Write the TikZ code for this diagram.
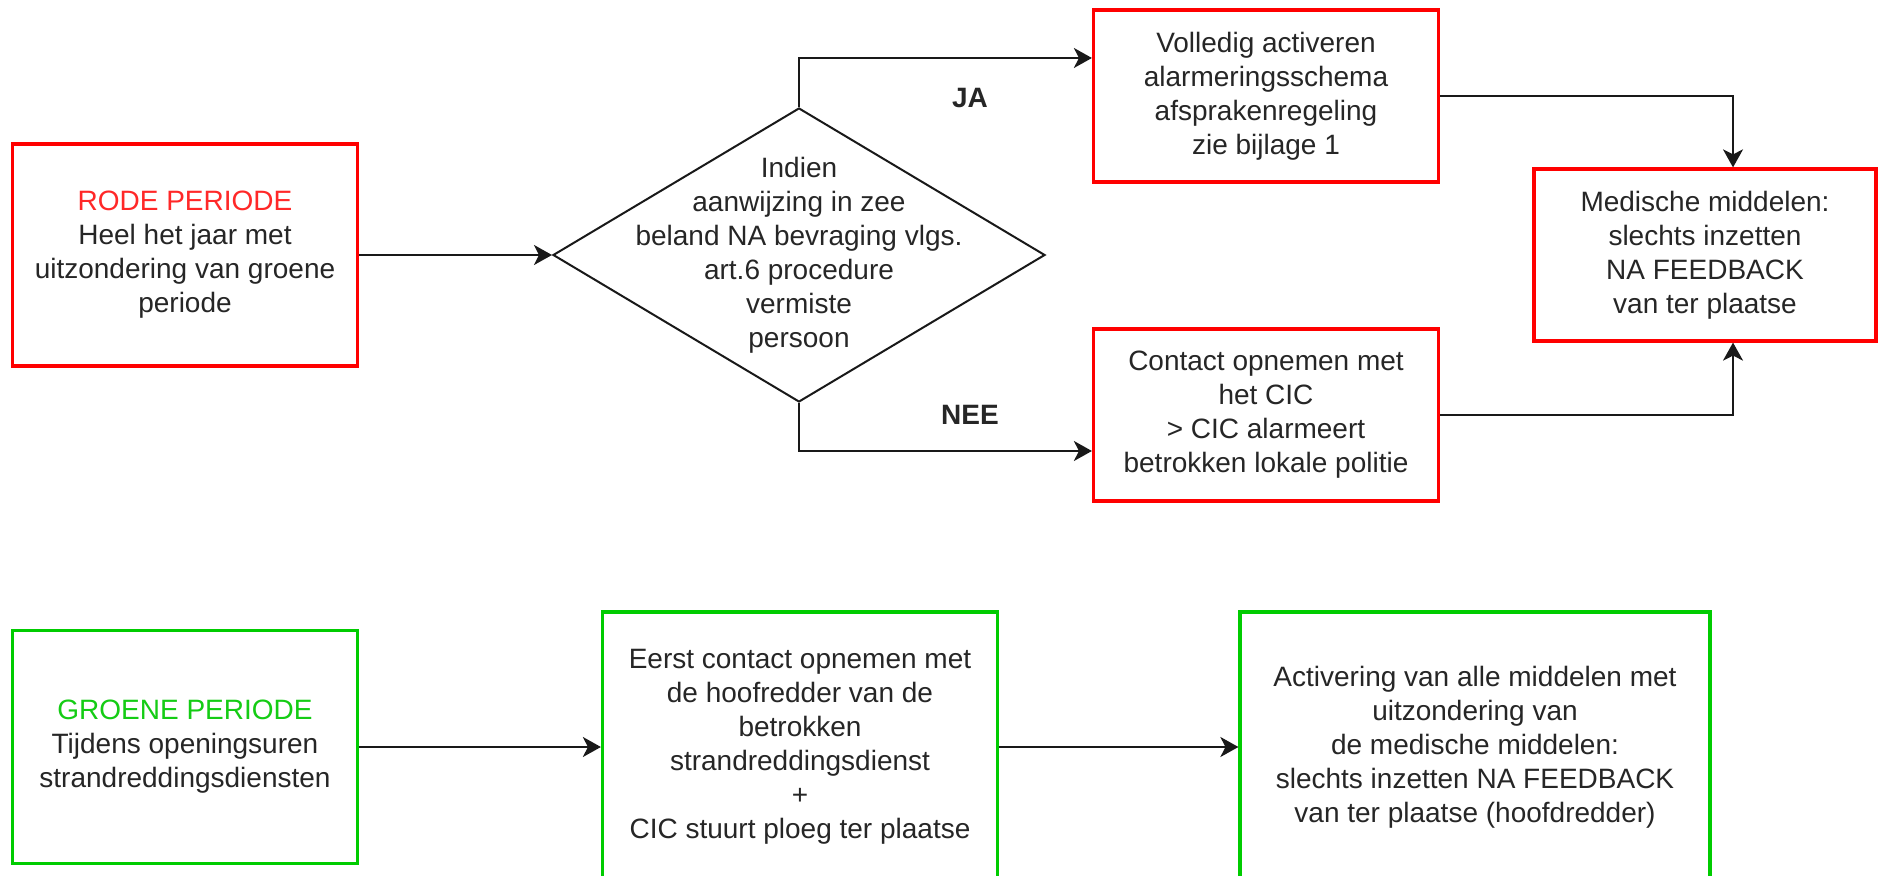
\documentclass[tikz,border=0pt]{standalone}
\usepackage{fontspec}
\setmainfont{Liberation Sans}
\usetikzlibrary{shapes.geometric,arrows.meta}
\definecolor{rodered}{RGB}{255,0,0}
\definecolor{rodetext}{RGB}{255,40,40}
\definecolor{groen}{RGB}{0,204,0}
\definecolor{groentext}{RGB}{20,204,20}
\definecolor{txt}{RGB}{38,38,38}
\tikzset{
  redbox/.style={draw=rodered, line width=1.6pt, fill=white, align=center, text=txt, inner sep=2pt},
  greenbox/.style={draw=groen, line width=1.6pt, fill=white, align=center, text=txt, inner sep=2pt},
  txtnode/.style={align=center, text=txt},
  arr/.style={line width=1pt, draw=black!90, -{Stealth[length=9pt,width=10pt,inset=2.5pt]}},
  lbl/.style={font=\fontsize{14pt}{17pt}\selectfont\bfseries, text=txt}
}
\begin{document}
\begin{tikzpicture}[x=0.5pt,y=-0.5pt, font=\fontsize{14pt}{17pt}\selectfont]
\useasboundingbox (0,0) rectangle (1878,876);
% red section
\node[redbox, minimum width=172.5pt, minimum height=111pt] (rode) at (185,255)
  {\textcolor{rodetext}{RODE PERIODE}\\Heel het jaar met\\uitzondering van groene\\periode};
\node[diamond, draw=black!90, line width=1pt, minimum width=246pt, minimum height=147pt, inner sep=0pt] (dia) at (799,255) {};
\node[txtnode] (diatext) at (dia.center) {Indien\\aanwijzing in zee\\beland NA bevraging vlgs.\\art.6 procedure\\vermiste\\persoon};
\node[redbox, minimum width=172.5pt, minimum height=86pt] (vol) at (1266,96)
  {Volledig activeren\\alarmeringsschema\\afsprakenregeling\\zie bijlage 1};
\node[redbox, minimum width=172.5pt, minimum height=86pt] (con) at (1266,415)
  {Contact opnemen met\\het CIC\\> CIC alarmeert\\betrokken lokale politie};
\node[redbox, minimum width=171pt, minimum height=86pt] (med) at (1705,255)
  {Medische middelen:\\slechts inzetten\\NA FEEDBACK\\van ter plaatse};
\node[lbl] (ja) at (970,98) {JA};
\node[lbl] (nee) at (970,415) {NEE};
\draw[arr] (rode.east) -- (dia.west);
\draw[arr] (dia.north) |- ([yshift=19pt]vol.west);
\draw[arr] (dia.south) |- ([yshift=-18pt]con.west);
\draw[arr] (vol.east) -| ([xshift=14pt]med.north);
\draw[arr] (con.east) -| ([xshift=14pt]med.south);
% green section
\node[greenbox, minimum width=172.5pt, minimum height=116.5pt] (groen) at (185,747)
  {\textcolor{groentext}{GROENE PERIODE}\\Tijdens openingsuren\\strandreddingsdiensten};
\node[greenbox, minimum width=197.5pt, minimum height=135pt] (eerst) at (800,747)
  {Eerst contact opnemen met\\de hoofredder van de\\betrokken\\strandreddingsdienst\\+\\CIC stuurt ploeg ter plaatse};
\node[greenbox, minimum width=235pt, minimum height=135pt] (act) at (1475,747)
  {Activering van alle middelen met\\uitzondering van\\de medische middelen:\\slechts inzetten NA FEEDBACK\\van ter plaatse (hoofdredder)};
\draw[arr] (groen.east) -- (eerst.west);
\draw[arr] (eerst.east) -- (act.west);
\end{tikzpicture}
\end{document}
